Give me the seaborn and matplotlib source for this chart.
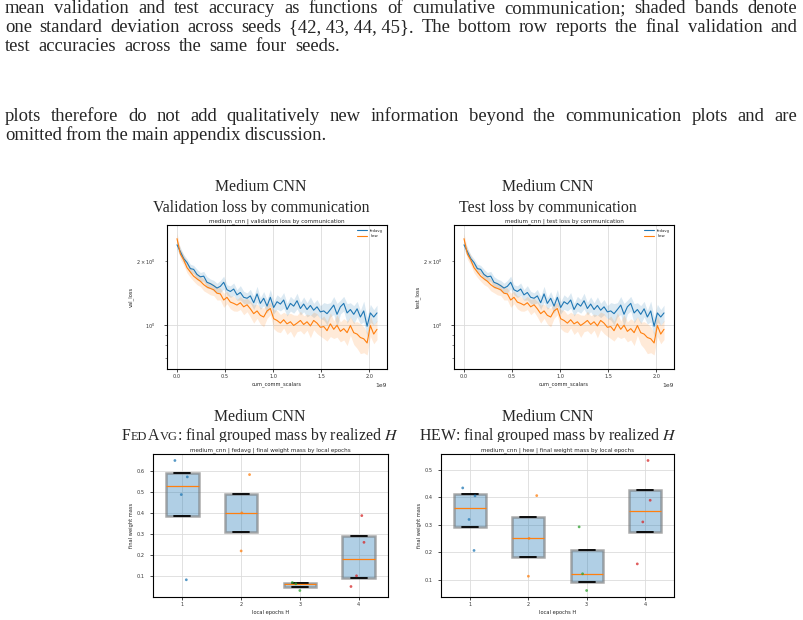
import matplotlib
matplotlib.use("Agg")
import matplotlib.pyplot as plt
from matplotlib.patches import Rectangle
import numpy as np
import pandas as pd
import seaborn as sns

# --- data -------------------------------------------------------------------

# cumulative communication, in units of 1e9 scalars
comm = [0.000, 0.035, 0.069, 0.104, 0.139, 0.173, 0.208, 0.243, 0.278, 0.312,
        0.347, 0.382, 0.416, 0.451, 0.486, 0.520, 0.555, 0.590, 0.624, 0.659,
        0.694, 0.729, 0.763, 0.798, 0.833, 0.867, 0.902, 0.937, 0.971, 1.006,
        1.041, 1.076, 1.110, 1.145, 1.180, 1.214, 1.249, 1.284, 1.318, 1.353,
        1.388, 1.422, 1.457, 1.492, 1.527, 1.561, 1.596, 1.631, 1.665, 1.700,
        1.735, 1.770, 1.804, 1.839, 1.874, 1.908, 1.943, 1.978, 2.012, 2.047,
        2.081]

val_loss_fedavg = [2.380, 2.211, 2.053, 1.965, 1.839, 1.825, 1.727, 1.683, 1.695, 1.586,
                   1.563, 1.529, 1.490, 1.518, 1.586, 1.463, 1.436, 1.474, 1.384, 1.420,
                   1.348, 1.334, 1.369, 1.271, 1.399, 1.262, 1.334, 1.225, 1.348, 1.207,
                   1.285, 1.253, 1.309, 1.181, 1.262, 1.225, 1.299, 1.194, 1.253, 1.181,
                   1.234, 1.172, 1.216, 1.151, 1.163, 1.129, 1.181, 1.239, 1.121, 1.216,
                   1.262, 1.138, 1.181, 1.121, 1.190, 1.089, 1.163, 0.985, 1.138, 1.089,
                   1.138]
val_loss_hew = [2.544, 2.154, 2.024, 1.859, 1.772, 1.695, 1.646, 1.604, 1.546, 1.506,
                1.484, 1.463, 1.409, 1.399, 1.309, 1.348, 1.280, 1.262, 1.239, 1.271,
                1.216, 1.243, 1.190, 1.129, 1.163, 1.109, 1.089, 1.163, 1.194, 1.069,
                1.049, 1.019, 1.057, 1.011, 1.034, 0.993, 1.019, 1.049, 1.004, 1.034,
                0.989, 1.049, 1.019, 0.974, 0.982, 0.939, 1.011, 0.953, 0.996, 0.932,
                0.960, 0.919, 0.993, 0.919, 0.905, 0.872, 0.860, 0.822, 0.993, 0.905,
                0.953]
# std across seeds
sd_fedavg = [0.12, 0.10, 0.09, 0.08, 0.09, 0.08, 0.10, 0.08, 0.09, 0.10,
             0.08, 0.09, 0.08, 0.10, 0.11, 0.08, 0.09, 0.10, 0.08, 0.11,
             0.09, 0.08, 0.10, 0.09, 0.12, 0.08, 0.10, 0.09, 0.12, 0.08,
             0.10, 0.09, 0.11, 0.08, 0.10, 0.09, 0.11, 0.08, 0.10, 0.09,
             0.12, 0.09, 0.10, 0.08, 0.11, 0.13, 0.09, 0.12, 0.14, 0.09,
             0.10, 0.12, 0.09, 0.11, 0.10, 0.08, 0.13, 0.10, 0.11, 0.09,
             0.10]
sd_hew = [0.15, 0.12, 0.11, 0.10, 0.10, 0.09, 0.10, 0.09, 0.10, 0.09,
          0.10, 0.09, 0.10, 0.09, 0.10, 0.09, 0.09, 0.10, 0.08, 0.09,
          0.10, 0.09, 0.10, 0.11, 0.09, 0.10, 0.11, 0.09, 0.08, 0.11,
          0.12, 0.10, 0.09, 0.11, 0.10, 0.12, 0.09, 0.11, 0.10, 0.09,
          0.12, 0.10, 0.11, 0.09, 0.12, 0.10, 0.13, 0.09, 0.12, 0.10,
          0.11, 0.12, 0.10, 0.11, 0.13, 0.14, 0.12, 0.10, 0.11, 0.09,
          0.10]

# test curves look the same as validation on the page
test_loss_fedavg = list(val_loss_fedavg)
test_loss_hew = list(val_loss_hew)

# final weight mass per seed, grouped by realized local epochs H
fedavg_H = [1, 1, 1, 1, 2, 2, 2, 3, 3, 3, 4, 4, 4, 4]
fedavg_mass = [0.651, 0.573, 0.489, 0.084, 0.584, 0.402, 0.221,
               0.071, 0.065, 0.033, 0.389, 0.262, 0.103, 0.052]
hew_H = [1, 1, 1, 1, 2, 2, 2, 3, 3, 3, 4, 4, 4, 4]
hew_mass = [0.434, 0.405, 0.319, 0.206, 0.406, 0.250, 0.112,
            0.292, 0.121, 0.060, 0.534, 0.389, 0.310, 0.157]

# page text: line ("~" = space that is not stretched), right edge on the page (px)
paragraph = [
    ("mean validation and test accuracy as functions of cumulative communication; shaded bands denote", 797),
    ("one standard deviation across seeds {42,~43,~44,~45}. The bottom row reports the final validation and", 797),
    ("test accuracies across the same four seeds.", 340),
    ("plots therefore do not add qualitatively new information beyond the communication plots and are", 797),
    ("omitted from the main appendix discussion.", 327),
]
paragraph_y = [13.0, 32.0, 51.0, 121.0, 140.0]

# --- figure -----------------------------------------------------------------
W, H = 804, 620
SERIF = "Liberation Serif"
BODY = 13.4

sns.set_theme(style="white")
plt.rcParams["font.family"] = ["DejaVu Sans"]

fig = plt.figure(figsize=(W / 100, H / 100), dpi=100)
fig.patch.set_facecolor("white")
renderer = fig.canvas.get_renderer()


def fx(px):
    return px / W


def fy(py):
    return 1 - py / H


def place_line(line, y_px, x1, size, x0=5):
    # spread the words so the line runs from x0 to x1, as on the page
    words = [w.replace("~", " ") for w in line.split(" ")]
    arts = [fig.text(0, fy(y_px), w, fontsize=size, family=SERIF, va="baseline")
            for w in words]
    widths = [a.get_window_extent(renderer).width for a in arts]
    gap = (x1 - x0 - sum(widths)) / (len(words) - 1)
    x = x0
    for a, w in zip(arts, widths):
        a.set_x(fx(x))
        x += w + gap


def place_runs(runs, xc_px, y_px):
    arts = [fig.text(0, fy(y_px), s, fontsize=sz, family=SERIF, math_fontfamily="stix",
                     va="baseline", zorder=1) for s, sz, _ in runs]
    widths = [a.get_window_extent(renderer).width for a in arts]
    shifts = [d for _, _, d in runs]
    x = xc_px - (sum(widths) + sum(shifts)) / 2
    for a, w, d in zip(arts, widths, shifts):
        x += d
        a.set_x(fx(x))
        x += w


for (line, x1), y in zip(paragraph, paragraph_y):
    place_line(line, y, x1, BODY)

TS = 11.4
SC = TS * 0.78
place_runs([("Medium CNN", TS, 0)], 261, 190.7)
place_runs([("Validation loss by communication", TS, 0)], 261, 212.4)
place_runs([("Medium CNN", TS, 0)], 548, 190.7)
place_runs([("Test loss by communication", TS, 0)], 548, 212.4)
place_runs([("Medium CNN", TS, 0)], 260, 420.7)
place_runs([("F", TS, 0), ("ED", SC, 0.3), ("A", TS, 0.3), ("VG", SC, 0.3),
            (": final grouped mass by realized $H$", TS, -0.6)], 260, 440.3)
place_runs([("Medium CNN", TS, 0)], 548, 420.7)
place_runs([("HEW: final grouped mass by realized $H$", TS, 0)], 548, 440.3)

# the embedded plot images hide the bottom of the second title line
for x0, x1, ytop, ybot in [(125, 400, 213.5, 226), (405, 690, 213.5, 226),
                           (110, 400, 442.3, 455), (400, 690, 442.3, 455)]:
    fig.add_artist(Rectangle((fx(x0), fy(ybot)), (x1 - x0) / W, (ybot - ytop) / H,
                             transform=fig.transFigure, facecolor="white",
                             edgecolor="none", zorder=2))


def style_inner(ax, ypad):
    ax.set_zorder(3)
    for s in ax.spines.values():
        s.set_color("black")
        s.set_linewidth(0.8)
    ax.tick_params(which="major", labelsize=3.6, length=2, width=0.5,
                   bottom=True, left=True, colors="black", labelcolor="#333333")
    ax.tick_params(which="minor", labelsize=3.6, length=1.3, width=0.4,
                   left=True, labelcolor="#333333")
    ax.tick_params(axis="x", pad=1.5)
    ax.tick_params(axis="y", which="both", pad=ypad)
    ax.grid(True, color="#dcdcdc", linewidth=0.6)
    ax.set_axisbelow(True)


def loss_panel(ax, fedavg, hew, ylabel, title):
    x = np.array(comm) * 1e9
    for vals, sd, name, col in [(fedavg, sd_fedavg, "fedavg", "tab:blue"),
                                (hew, sd_hew, "hew", "tab:orange")]:
        v = np.array(vals)
        s = np.array(sd)
        ax.fill_between(x, v - s, v + s, color=col, alpha=0.16, linewidth=0)
        sns.lineplot(x=x, y=v, ax=ax, color=col, linewidth=0.8, label=name)
    ax.set_yscale("log")
    ax.set_ylim(0.62, 2.95)
    style_inner(ax, ypad=6.5)
    ax.grid(False, which="minor")
    ax.set_xlabel("cum_comm_scalars", fontsize=3.7, labelpad=1.5)
    ax.set_ylabel(ylabel, fontsize=3.7, labelpad=2)
    ax.xaxis.get_offset_text().set_fontsize(4.3)
    ax.set_title(title, fontsize=4.1, pad=1.6)
    ax.legend(loc="upper right", fontsize=2.7, frameon=False, handlelength=2.6,
              borderaxespad=0.6, labelspacing=0.3)


def mass_panel(ax, Hs, mass, title):
    df = pd.DataFrame({"H": Hs, "mass": mass})
    sns.boxplot(data=df, x="H", y="mass", ax=ax, whis=0, showfliers=False, width=0.55,
                boxprops=dict(facecolor=(0.12, 0.47, 0.71, 0.35),
                              edgecolor=(0.45, 0.45, 0.45, 0.6), linewidth=1.8),
                medianprops=dict(color="tab:orange", linewidth=0.9),
                capprops=dict(color="black", linewidth=1.3),
                whiskerprops=dict(color="black", linewidth=1.0))
    np.random.seed(7)
    sns.stripplot(data=df, x="H", y="mass", hue="H", ax=ax,
                  palette=sns.color_palette("tab10", 4), size=2, alpha=0.75,
                  jitter=0.15, legend=False, zorder=4)
    style_inner(ax, ypad=4)
    ax.set_xlabel("local epochs H", fontsize=3.7, labelpad=2)
    ax.set_ylabel("final weight mass", fontsize=3.7, labelpad=2)
    ax.set_title(title, fontsize=4.1, pad=1.6)


ax_val = fig.add_axes([fx(167), fy(369), 220 / W, 144 / H])
ax_test = fig.add_axes([fx(454), fy(369), 220 / W, 144 / H])
ax_fa = fig.add_axes([fx(153), fy(597), 235 / W, 143 / H])
ax_hw = fig.add_axes([fx(441), fy(597), 233 / W, 143 / H])

loss_panel(ax_val, val_loss_fedavg, val_loss_hew, "val_loss",
           "medium_cnn | validation loss by communication")
loss_panel(ax_test, test_loss_fedavg, test_loss_hew, "test_loss",
           "medium_cnn | test loss by communication")
mass_panel(ax_fa, fedavg_H, fedavg_mass, "medium_cnn | fedavg | final weight mass by local epochs")
mass_panel(ax_hw, hew_H, hew_mass, "medium_cnn | hew | final weight mass by local epochs")

fig.savefig("out.png", dpi=100, facecolor="white")
